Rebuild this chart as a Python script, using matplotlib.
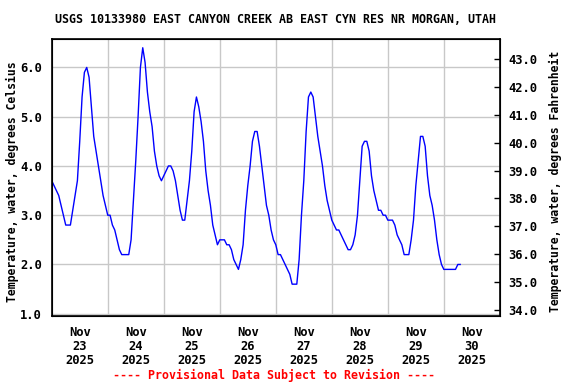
import numpy as np
import matplotlib
matplotlib.use("Agg")
import matplotlib.pyplot as plt

# Hourly water temperature (deg C), starting 2025-11-23 00:00
temp_c = [
    3.7, 3.6, 3.5, 3.4, 3.2, 3.0, 2.8, 2.8, 2.8, 3.1, 3.4, 3.7,
    4.5, 5.4, 5.9, 6.0, 5.8, 5.2, 4.6, 4.3, 4.0, 3.7, 3.4, 3.2,
    3.0, 3.0, 2.8, 2.7, 2.5, 2.3, 2.2, 2.2, 2.2, 2.2, 2.5, 3.3,
    4.1, 5.0, 6.0, 6.4, 6.1, 5.5, 5.1, 4.8, 4.3, 4.0, 3.8, 3.7,
    3.8, 3.9, 4.0, 4.0, 3.9, 3.7, 3.4, 3.1, 2.9, 2.9, 3.3, 3.7,
    4.3, 5.1, 5.4, 5.2, 4.9, 4.5, 3.9, 3.5, 3.2, 2.8, 2.6, 2.4,
    2.5, 2.5, 2.5, 2.4, 2.4, 2.3, 2.1, 2.0, 1.9, 2.1, 2.4, 3.1,
    3.6, 4.0, 4.5, 4.7, 4.7, 4.4, 4.0, 3.6, 3.2, 3.0, 2.7, 2.5,
    2.4, 2.2, 2.2, 2.1, 2.0, 1.9, 1.8, 1.6, 1.6, 1.6, 2.1, 3.0,
    3.7, 4.7, 5.4, 5.5, 5.4, 5.0, 4.6, 4.3, 4.0, 3.6, 3.3, 3.1,
    2.9, 2.8, 2.7, 2.7, 2.6, 2.5, 2.4, 2.3, 2.3, 2.4, 2.6, 3.0,
    3.7, 4.4, 4.5, 4.5, 4.3, 3.8, 3.5, 3.3, 3.1, 3.1, 3.0, 3.0,
    2.9, 2.9, 2.9, 2.8, 2.6, 2.5, 2.4, 2.2, 2.2, 2.2, 2.5, 2.9,
    3.6, 4.1, 4.6, 4.6, 4.4, 3.8, 3.4, 3.2, 2.9, 2.5, 2.2, 2.0,
    1.9, 1.9, 1.9, 1.9, 1.9, 1.9, 2.0, 2.0,
]
days = ["23", "24", "25", "26", "27", "28", "29", "30"]
c_ticks = [1.0, 2.0, 3.0, 4.0, 5.0, 6.0]
f_ticks = [34.0, 35.0, 36.0, 37.0, 38.0, 39.0, 40.0, 41.0, 42.0, 43.0]

title = "USGS 10133980 EAST CANYON CREEK AB EAST CYN RES NR MORGAN, UTAH"
font = "DejaVu Sans Mono"

hours = np.arange(len(temp_c))
t_days = hours / 24.0

fig = plt.figure(figsize=(5.76, 3.84), dpi=100)
ax = fig.add_axes([0.0898, 0.177, 0.778, 0.721])

ax.plot(t_days, temp_c, color="#0000ff", lw=1.0)

ax.set_xlim(0, 8)
ax.set_ylim(0.953, 6.574)

# grid: horizontal at Celsius values, vertical at midnight
ax.set_yticks(c_ticks)
ax.set_yticklabels([f"{v:.1f}" for v in c_ticks])
ax.set_xticks(np.arange(1, 8))
ax.set_xticklabels([])
ax.grid(True, color="#c8c8c8", lw=1.0)
ax.tick_params(axis="both", length=0)
ax.tick_params(axis="y", pad=7)
for lab in ax.get_yticklabels():
    lab.set_fontfamily(font)
    lab.set_fontweight("bold")
    lab.set_fontsize(8.7)

# day labels at noon
for i, d in enumerate(days):
    ax.text(i + 0.5, -0.035, f"Nov\n{d}\n2025", transform=ax.get_xaxis_transform(),
            ha="center", va="top", fontsize=8.7, fontweight="bold",
            family=font, linespacing=1.1)

for sp in ax.spines.values():
    sp.set_linewidth(1.2)

# Fahrenheit axis
ax2 = ax.twinx()
ax2.set_ylim(33.785, 43.71)
ax2.set_yticks(f_ticks)
ax2.set_yticklabels([f"{v:.1f}" for v in f_ticks])
ax2.tick_params(axis="y", direction="in", length=4, width=1, pad=6)
for lab in ax2.get_yticklabels():
    lab.set_fontfamily(font)
    lab.set_fontweight("bold")
    lab.set_fontsize(8.7)

fig.text(0.479, 0.95, title, ha="center", va="center", fontsize=8.4,
         fontweight="bold", family=font)
fig.text(0.021, 0.527, "Temperature, water, degrees Celsius", rotation=90,
         ha="center", va="center", fontsize=8.3, fontweight="bold", family=font)
fig.text(0.965, 0.527, "Temperature, water, degrees Fahrenheit", rotation=90,
         ha="center", va="center", fontsize=8.3, fontweight="bold", family=font)
fig.text(0.476, 0.023, "---- Provisional Data Subject to Revision ----",
         ha="center", va="center", fontsize=8.4, fontweight="bold",
         family=font, color="#ff0000")

fig.savefig("out.png", dpi=100)
